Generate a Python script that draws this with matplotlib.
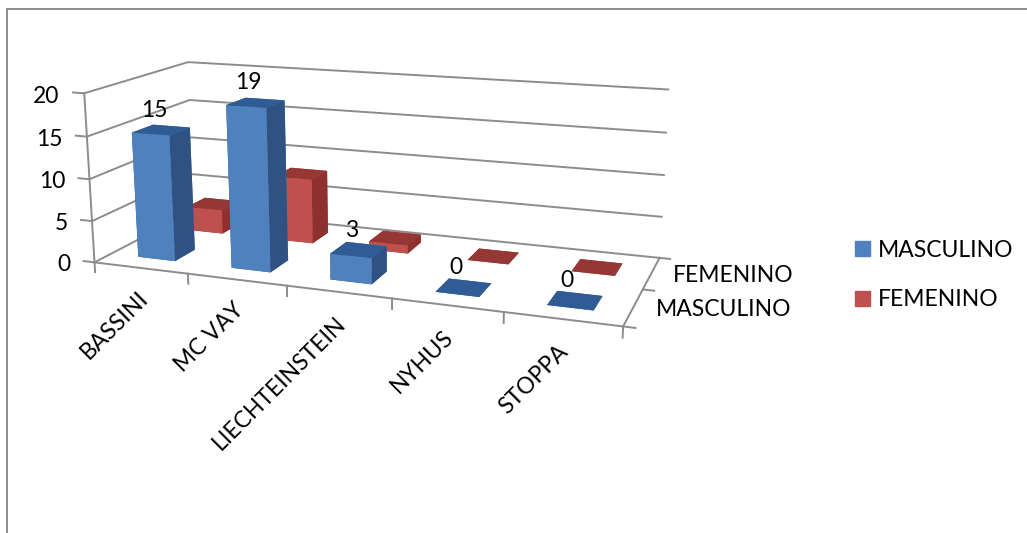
import numpy as np
import matplotlib
matplotlib.use('Agg')
import matplotlib.pyplot as plt
from matplotlib.patches import Patch, Rectangle
from mpl_toolkits.mplot3d import proj3d

plt.rcParams['font.family'] = ['Lato', 'DejaVu Sans']

categories = ['BASSINI', 'MC VAY', 'LIECHTEINSTEIN', 'NYHUS', 'STOPPA']
series = ['MASCULINO', 'FEMENINO']
masculino = [15, 19, 3, 0, 0]
femenino = [3, 8, 1, 0, 0]
z_ticks = [0, 5, 10, 15, 20]

W = 1027; H = 533
fig = plt.figure(figsize=(W/100, H/100), dpi=100)
# camera fitted to the frame corners of the original chart
ax = fig.add_axes([78.2/W, 56.7/H, 582.6/W, 582.6/H], projection='3d', computed_zorder=False)
ax.set_xlim(0, 5); ax.set_ylim(0, 2); ax.set_zlim(0, 20)
ax.view_init(elev=13.996, azim=-69.303, roll=0.255)
ax.set_proj_type('persp', focal_length=0.405)
ax.set_box_aspect((1, 0.391, 0.325))
ax.set_axis_off()
ax.patch.set_alpha(0)

fs = 16.5
M = ax.get_proj()

def label(x, y, z, s, **kw):
    # 3d text ignores rotation, so project the anchor and place it in 2d
    u, v, _ = proj3d.proj_transform(x, y, z, M)
    ax.text2D(u, v, s, transform=ax.transData, fontsize=fs, color='k', zorder=50, **kw)

grid = '#8c8c8c'
kw = dict(color=grid, lw=1.4, zorder=1, clip_on=False)
for z in z_ticks:
    ax.plot([-0.12,0,0,5],[0,0,2,2],[z,z,z,z], **kw)
    label(-0.27, 0, z-0.6, str(z), ha='right', va='center')
ax.plot([0,0],[0,0],[0,20], **kw)
ax.plot([0,5,5],[0,0,2],[0,0,0], **kw)
for i in range(6):
    ax.plot([i,i],[0,0],[0,-1.2], **kw)
for j in range(3):
    ax.plot([5,5.1],[j,j],[0,0], **kw)

colors = {0:('#4F81BD','#2F5C94','#2F5283'), 1:('#C0504D','#953735','#8E302D')}
vals = [masculino, femenino]
w = 0.4
zo = 2
for j in [1,0]:
    for i in range(5):
        f,t,r = colors[j]
        ax.bar3d(i+0.5-w/2, j+0.5-w/2, 0, w, w, vals[j][i],
                 color=[t,t,f,f,r,r], shade=False, zorder=zo, linewidth=0)
        zo += 1
for i in range(5):
    label(i+0.43, 0.5, masculino[i]+1.0, str(masculino[i]), ha='center', va='bottom')
    label(i+0.46, 0, -2.4, categories[i], rotation=45, ha='right', va='top', rotation_mode='anchor')
for j in range(2):
    label(5.19, j+0.5, 0, series[j], ha='left', va='center')

handles = [Patch(color=colors[0][0],label=series[0]), Patch(color=colors[1][0],label=series[1])]
fig.legend(handles=handles,loc='center left',bbox_to_anchor=(834/W,1-275/H),frameon=False,fontsize=fs,
           handlelength=0.65,handleheight=0.65,handletextpad=0.35,labelspacing=1.25)
fig.add_artist(Rectangle((7/W,-0.1),1.1,1.1-9/H,fill=False,ec='#8c8c8c',lw=1.4,transform=fig.transFigure))
fig.savefig('out.png',dpi=100)
